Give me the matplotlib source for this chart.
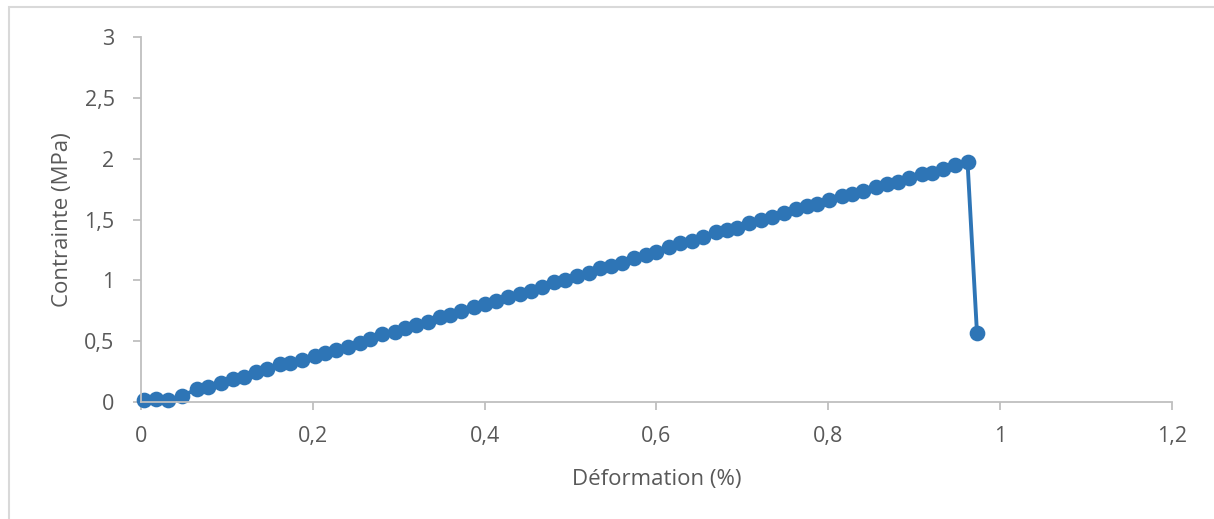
import matplotlib
matplotlib.use("Agg")
import matplotlib.pyplot as plt
from matplotlib.patches import Rectangle
from matplotlib.ticker import FuncFormatter

# Déformation (%) et contrainte (MPa)
deformation = [0.0035, 0.0175, 0.031, 0.048, 0.065, 0.078, 0.093, 0.107, 0.120, 0.134,
               0.147, 0.162, 0.174, 0.187, 0.202, 0.214, 0.227, 0.241, 0.255, 0.267,
               0.281, 0.296, 0.307, 0.320, 0.334, 0.348, 0.360, 0.372, 0.388, 0.401,
               0.413, 0.427, 0.441, 0.454, 0.467, 0.481, 0.494, 0.507, 0.521, 0.534,
               0.547, 0.560, 0.574, 0.588, 0.600, 0.615, 0.627, 0.641, 0.654, 0.669,
               0.682, 0.694, 0.708, 0.722, 0.735, 0.748, 0.762, 0.775, 0.787, 0.801,
               0.816, 0.827, 0.840, 0.855, 0.868, 0.881, 0.894, 0.909, 0.921, 0.934,
               0.948, 0.962, 0.973]
contrainte = [0.016, 0.025, 0.016, 0.052, 0.104, 0.121, 0.159, 0.189, 0.208, 0.249,
              0.268, 0.309, 0.322, 0.345, 0.378, 0.400, 0.427, 0.454, 0.487, 0.515,
              0.555, 0.578, 0.611, 0.633, 0.660, 0.701, 0.715, 0.748, 0.783, 0.805,
              0.830, 0.860, 0.888, 0.915, 0.943, 0.984, 1.003, 1.036, 1.063, 1.104,
              1.118, 1.145, 1.186, 1.208, 1.235, 1.276, 1.304, 1.325, 1.358, 1.399,
              1.413, 1.432, 1.468, 1.496, 1.518, 1.556, 1.584, 1.611, 1.627, 1.660,
              1.695, 1.709, 1.736, 1.769, 1.791, 1.810, 1.838, 1.874, 1.884, 1.915,
              1.948, 1.975, 0.570]

x_ticks = [0, 0.2, 0.4, 0.6, 0.8, 1, 1.2]
y_ticks = [0, 0.5, 1, 1.5, 2, 2.5, 3]

plt.rcParams['font.family'] = ['Open Sans', 'DejaVu Sans']

BLUE = '#2E75B6'
GRID = '#BFBFBF'
TEXT = '#595959'

fig = plt.figure(figsize=(12.14, 5.19), dpi=100)
ax = fig.add_axes([0.1161, 0.2254, 0.8493, 0.7033])

ax.plot(deformation, contrainte, color=BLUE, lw=2.8, marker='o', ms=11.3,
        markeredgewidth=0, clip_on=False)

ax.set_xlim(0, 1.2)
ax.set_ylim(0, 3)
ax.set_xticks(x_ticks)
ax.set_yticks(y_ticks)
fmt = FuncFormatter(lambda v, _: ('%g' % v).replace('.', ','))
ax.xaxis.set_major_formatter(fmt)
ax.yaxis.set_major_formatter(fmt)

for s in ['top', 'right']:
    ax.spines[s].set_visible(False)
for s in ['left', 'bottom']:
    ax.spines[s].set_color(GRID)
    ax.spines[s].set_linewidth(1.3)
ax.tick_params(colors=GRID, labelcolor=TEXT, labelsize=15.5, length=6, width=1.3)
ax.tick_params(axis='x', pad=11)
ax.tick_params(axis='y', pad=13)

ax.set_xlabel('Déformation (%)', fontsize=16, color=TEXT, labelpad=16)
ax.set_ylabel('Contrainte (MPa)', fontsize=16, color=TEXT, labelpad=8)

# cadre du graphique (seuls les bords gauche et haut sont visibles)
fig.patches.append(Rectangle((9 / 1214, -0.1), 1.2, 1.1 - 7 / 519, transform=fig.transFigure,
                             fill=False, edgecolor='#D9D9D9', lw=1.5))

fig.savefig('out.png', dpi=100)
